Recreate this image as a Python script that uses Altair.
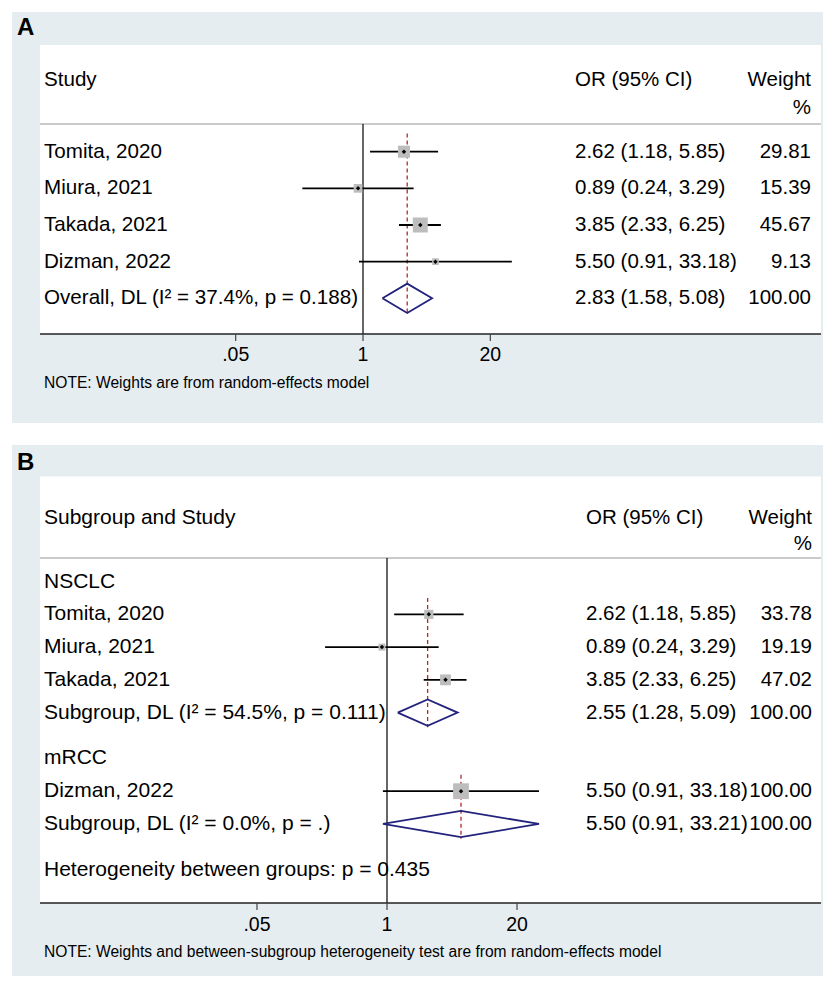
import math
import altair as alt
import pandas as pd

# ---------------- Data ----------------
# Panel A
a_studies = ["Tomita, 2020", "Miura, 2021", "Takada, 2021", "Dizman, 2022"]
a_or = [2.62, 0.89, 3.85, 5.50]
a_lci = [1.18, 0.24, 2.33, 0.91]
a_uci = [5.85, 3.29, 6.25, 33.18]
a_weight = [29.81, 15.39, 45.67, 9.13]
a_pooled_label = "Overall, DL (I² = 37.4%, p = 0.188)"
a_pooled = [2.83, 1.58, 5.08, 100.00]  # OR, lower, upper, weight

# Panel B
b_groups = ["NSCLC", "mRCC"]
b_studies = [["Tomita, 2020", "Miura, 2021", "Takada, 2021"], ["Dizman, 2022"]]
b_or = [[2.62, 0.89, 3.85], [5.50]]
b_lci = [[1.18, 0.24, 2.33], [0.91]]
b_uci = [[5.85, 3.29, 6.25], [33.18]]
b_weight = [[33.78, 19.19, 47.02], [100.00]]
b_pooled_labels = ["Subgroup, DL (I² = 54.5%, p = 0.111)", "Subgroup, DL (I² = 0.0%, p = .)"]
b_pooled = [[2.55, 1.28, 5.09, 100.00], [5.50, 0.91, 33.21, 100.00]]
b_het_label = "Heterogeneity between groups: p = 0.435"

tick_values = [0.05, 1, 20]
tick_labels = [".05", "1", "20"]

# ---------------- Styles ----------------
FONT = "Liberation Sans"
GRAY_BG = "#e6edf1"
BOX_GRAY = "#bdbdbd"
NAVY = "#23237d"
RED = "#b22a2a"
FS = 20.5


def fmt_ci(e, l, u):
    return f"{e:.2f} ({l:.2f}, {u:.2f})"


def build_panel(letter, head_label, note, study_rows, pooled_rows, label_rows, dash_rows, g):
    W, H = g["W"], g["H"]
    xdom = [math.exp(-g["x1"] / g["ppl"]), math.exp((W - g["x1"]) / g["ppl"])]
    ydom = [-g["r0"] / g["rstep"], (H - g["r0"]) / g["rstep"]]
    xs = alt.Scale(type="log", domain=xdom, nice=False)
    ys = alt.Scale(domain=ydom, reverse=True, nice=False, zero=False)

    one = alt.Chart(pd.DataFrame({"k": [0]}))
    sdf = pd.DataFrame(study_rows)
    ldf = pd.DataFrame(label_rows)
    ddf = pd.DataFrame(dash_rows)
    tdf = pd.DataFrame({"val": tick_values, "lab": tick_labels})

    # diamond outline points from pooled estimates
    dpts = []
    for i, p in enumerate(pooled_rows):
        pts = [(p["lci"], p["row"]), (p["est"], p["row"] - 0.4), (p["uci"], p["row"]),
               (p["est"], p["row"] + 0.4), (p["lci"], p["row"])]
        for j, (dx, dy) in enumerate(pts):
            dpts.append({"grp": i, "ord": j, "dx": dx, "dy": dy})
    dmd = pd.DataFrame(dpts)

    L, R = g["left"], g["right"]
    layers = [
        one.mark_rect(color="white").encode(
            x=alt.value(L), x2=alt.value(R), y=alt.value(g["white_top"]), y2=alt.value(g["axis_y"])),
        one.mark_rule(color="#b8b8b8", strokeWidth=1.5).encode(
            x=alt.value(L), x2=alt.value(R), y=alt.value(g["hline_y"])),
        one.mark_rule(color="black", strokeWidth=1.2).encode(
            x=alt.XDatum(1, type="quantitative", scale=xs, axis=None),
            y=alt.value(g["hline_y"]), y2=alt.value(g["axis_y"])),
        alt.Chart(ddf).mark_rule(color=RED, strokeDash=[4, 3], strokeWidth=1.3).encode(
            x=alt.X("est:Q", scale=xs, axis=None),
            y=alt.Y("r_top:Q", scale=ys, axis=None), y2="r_bot:Q"),
        alt.Chart(sdf).mark_rule(color="black", strokeWidth=1.8).encode(
            x=alt.X("lci:Q", scale=xs, axis=None), x2="uci:Q",
            y=alt.Y("row:Q", scale=ys, axis=None)),
        alt.Chart(sdf).mark_square(color=BOX_GRAY, opacity=1, filled=True).encode(
            x=alt.X("est:Q", scale=xs, axis=None),
            y=alt.Y("row:Q", scale=ys, axis=None),
            size=alt.Size("sz:Q", scale=None, legend=None)),
        alt.Chart(sdf).mark_point(shape="diamond", color="black", filled=True, size=20, opacity=1).encode(
            x=alt.X("est:Q", scale=xs, axis=None),
            y=alt.Y("row:Q", scale=ys, axis=None)),
        alt.Chart(dmd).mark_line(color=NAVY, strokeWidth=1.8, strokeJoin="miter").encode(
            x=alt.X("dx:Q", scale=xs, axis=None),
            y=alt.Y("dy:Q", scale=ys, axis=None),
            order="ord:Q", detail="grp:N"),
        alt.Chart(ldf).mark_text(align="left", baseline="middle", font=FONT, fontSize=g["label_fs"],
                                 color="black").encode(
            x=alt.value(g["col_study_x"]), y=alt.Y("row:Q", scale=ys, axis=None), text="label:N"),
        alt.Chart(ldf).mark_text(align="left", baseline="middle", font=FONT, fontSize=FS, color="black").encode(
            x=alt.value(g["col_or_x"]), y=alt.Y("row:Q", scale=ys, axis=None), text="ci:N"),
        alt.Chart(ldf).mark_text(align="right", baseline="middle", font=FONT, fontSize=FS, color="black").encode(
            x=alt.value(g["col_w_x"]), y=alt.Y("row:Q", scale=ys, axis=None), text="wt:N"),
        one.mark_text(align="left", baseline="middle", font=FONT, fontSize=g["label_fs"], color="black").encode(
            x=alt.value(g["col_study_x"]), y=alt.value(g["header_y"]), text=alt.value(head_label)),
        one.mark_text(align="left", baseline="middle", font=FONT, fontSize=FS, color="black").encode(
            x=alt.value(g["col_or_x"]), y=alt.value(g["header_y"]), text=alt.value("OR (95% CI)")),
        one.mark_text(align="right", baseline="middle", font=FONT, fontSize=FS, color="black").encode(
            x=alt.value(g["col_w_x"]), y=alt.value(g["header_y"]), text=alt.value("Weight")),
        one.mark_text(align="right", baseline="middle", font=FONT, fontSize=FS, color="black").encode(
            x=alt.value(g["col_w_x"]), y=alt.value(g["pct_y"]), text=alt.value("%")),
        one.mark_rule(color="#222222", strokeWidth=1.5).encode(
            x=alt.value(L), x2=alt.value(R), y=alt.value(g["axis_y"])),
        alt.Chart(tdf).mark_rule(color="#444444", strokeWidth=1.2).encode(
            x=alt.X("val:Q", scale=xs, axis=None),
            y=alt.value(g["axis_y"]), y2=alt.value(g["axis_y"] + 7)),
        alt.Chart(tdf).mark_text(align="center", baseline="middle", font=FONT, fontSize=19.5, color="black").encode(
            x=alt.X("val:Q", scale=xs, axis=None),
            y=alt.value(g["tick_label_y"]), text="lab:N"),
        one.mark_text(align="left", baseline="middle", font=FONT, fontSize=15.6, color="black").encode(
            x=alt.value(g["note_x"]), y=alt.value(g["note_y"]), text=alt.value(note)),
        one.mark_text(align="left", baseline="alphabetic", font=FONT, fontSize=24, fontWeight="bold",
                      color="black").encode(
            x=alt.value(5), y=alt.value(g["letter_y"]), text=alt.value(letter)),
    ]
    return alt.layer(*layers).properties(width=W, height=H)


# ---------------- Panel A rows ----------------
a_study_rows, a_label_rows = [], []
for i, name in enumerate(a_studies):
    r = i + 1
    a_study_rows.append({"row": r, "est": a_or[i], "lci": a_lci[i], "uci": a_uci[i],
                         "sz": a_weight[i] * 4.9})
    a_label_rows.append({"row": r, "label": name, "ci": fmt_ci(a_or[i], a_lci[i], a_uci[i]),
                         "wt": f"{a_weight[i]:.2f}"})
ra = len(a_studies) + 1
a_pooled_rows = [{"row": ra, "est": a_pooled[0], "lci": a_pooled[1], "uci": a_pooled[2]}]
a_label_rows.append({"row": ra, "label": a_pooled_label, "ci": fmt_ci(*a_pooled[:3]),
                     "wt": f"{a_pooled[3]:.2f}"})
a_dash_rows = [{"est": a_pooled[0], "r_top": 0.5, "r_bot": ra + 0.45}]

geomA = dict(W=811, H=411, left=28, right=809, white_top=33, axis_y=322, hline_y=112,
             header_y=68, pct_y=96, r0=103.05, rstep=36.65, x1=351, ppl=42.5,
             col_study_x=32, col_or_x=563, col_w_x=799, tick_label_y=343,
             note_x=32, note_y=371, letter_y=23, label_fs=20.6)

panelA = build_panel("A", "Study", "NOTE: Weights are from random-effects model",
                     a_study_rows, a_pooled_rows, a_label_rows, a_dash_rows, geomA)

# ---------------- Panel B rows ----------------
b_study_rows, b_label_rows, b_pooled_rows, b_dash_rows = [], [], [], []
r = 0.0
for gi, gname in enumerate(b_groups):
    b_label_rows.append({"row": r, "label": gname, "ci": "", "wt": ""})
    first = r + 1
    for si, name in enumerate(b_studies[gi]):
        r += 1
        e, l, u, w = b_or[gi][si], b_lci[gi][si], b_uci[gi][si], b_weight[gi][si]
        b_study_rows.append({"row": r, "est": e, "lci": l, "uci": u, "sz": w * 2.5})
        b_label_rows.append({"row": r, "label": name, "ci": fmt_ci(e, l, u), "wt": f"{w:.2f}"})
    r += 1
    pe, pl, pu, pw = b_pooled[gi]
    b_pooled_rows.append({"row": r, "est": pe, "lci": pl, "uci": pu})
    b_label_rows.append({"row": r, "label": b_pooled_labels[gi], "ci": fmt_ci(pe, pl, pu),
                         "wt": f"{pw:.2f}"})
    b_dash_rows.append({"est": pe, "r_top": first - 0.5, "r_bot": r + 0.45})
    r += 1.4
b_label_rows.append({"row": r, "label": b_het_label, "ci": "", "wt": ""})

geomB = dict(W=811, H=531, left=28, right=809, white_top=31.5, axis_y=458, hline_y=113,
             header_y=73, pct_y=99, r0=136.6, rstep=32.75, x1=375, ppl=43.4,
             col_study_x=32, col_or_x=574, col_w_x=800, tick_label_y=480,
             note_x=32, note_y=507, letter_y=24.5, label_fs=21)

panelB = build_panel("B", "Subgroup and Study",
                     "NOTE: Weights and between-subgroup heterogeneity test are from random-effects model",
                     b_study_rows, b_pooled_rows, b_label_rows, b_dash_rows, geomB)

chart = alt.vconcat(panelA, panelB, spacing=22).configure(
    padding={"left": 4, "top": 4, "right": 0, "bottom": 0}, background="white"
).configure_view(fill=GRAY_BG, strokeWidth=0)

chart.save("out.html", embed_options={"renderer": "svg", "actions": False})
